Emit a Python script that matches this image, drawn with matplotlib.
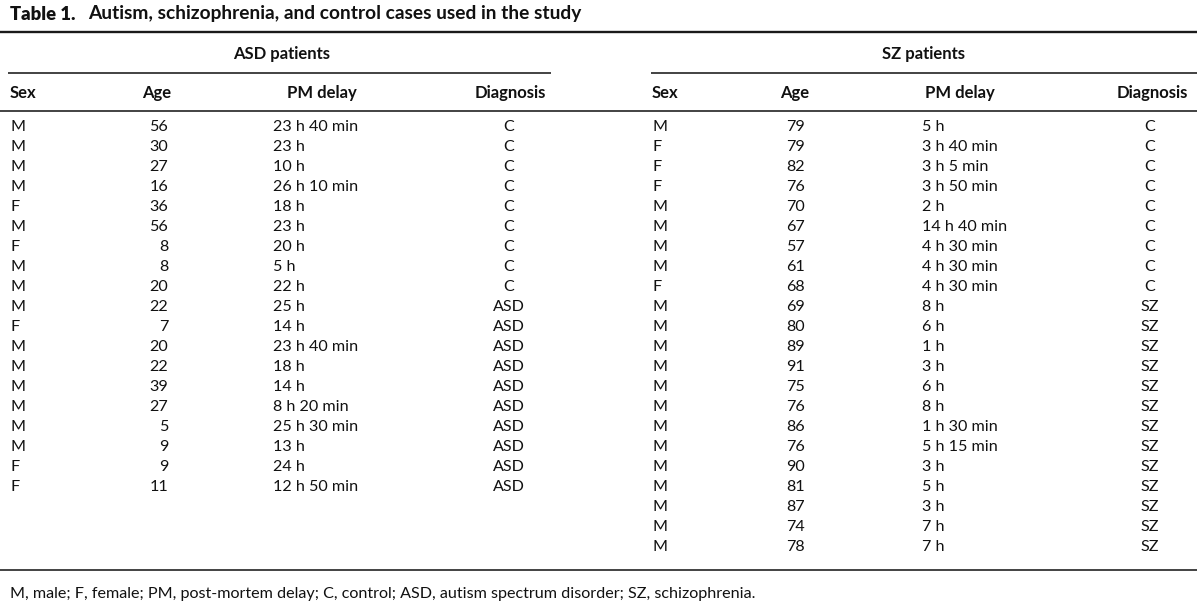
import matplotlib
matplotlib.use("Agg")
import matplotlib.pyplot as plt

plt.rcParams['font.family'] = ['Lato', 'DejaVu Sans']

# ---- data ----
title_label = "Table 1."
title_text = "Autism, schizophrenia, and control cases used in the study"
group_titles = ["ASD patients", "SZ patients"]
col_headers = ["Sex", "Age", "PM delay", "Diagnosis"]

asd_sex = ["M", "M", "M", "M", "F", "M", "F", "M", "M", "M", "F", "M", "M", "M", "M", "M", "M", "F", "F"]
asd_age = [56, 30, 27, 16, 36, 56, 8, 8, 20, 22, 7, 20, 22, 39, 27, 5, 9, 9, 11]
asd_pm = ["23 h 40 min", "23 h", "10 h", "26 h 10 min", "18 h", "23 h", "20 h", "5 h", "22 h",
          "25 h", "14 h", "23 h 40 min", "18 h", "14 h", "8 h 20 min", "25 h 30 min", "13 h",
          "24 h", "12 h 50 min"]
asd_dx = ["C"] * 9 + ["ASD"] * 10

sz_sex = ["M", "F", "F", "F", "M", "M", "M", "M", "F", "M", "M", "M", "M", "M", "M", "M", "M",
          "M", "M", "M", "M", "M"]
sz_age = [79, 79, 82, 76, 70, 67, 57, 61, 68, 69, 80, 89, 91, 75, 76, 86, 76, 90, 81, 87, 74, 78]
sz_pm = ["5 h", "3 h 40 min", "3 h 5 min", "3 h 50 min", "2 h", "14 h 40 min", "4 h 30 min",
         "4 h 30 min", "4 h 30 min", "8 h", "6 h", "1 h", "3 h", "6 h", "8 h", "1 h 30 min",
         "5 h 15 min", "3 h", "5 h", "3 h", "7 h", "7 h"]
sz_dx = ["C"] * 9 + ["SZ"] * 13

footnote = ("M, male; F, female; PM, post-mortem delay; C, control; ASD, autism spectrum "
            "disorder; SZ, schizophrenia.")

# ---- layout ----
W, H = 1200, 612
fig = plt.figure(figsize=(W / 100, H / 100), dpi=100)
ax = fig.add_axes([0, 0, 1, 1])
ax.set_xlim(0, W)
ax.set_ylim(H, 0)
ax.axis("off")

FS = 11.6
HFS = 12.0
color = "#111111"

# title
ax.text(10, 14, title_label, fontsize=13.2, fontweight="heavy", va="center", ha="left", color=color)
ax.text(88, 14, title_text, fontsize=13.8, fontweight="bold", va="center", ha="left", color=color)

# rules
ax.plot([0, 1197], [32, 32], color="#1a1a1a", lw=1.7, solid_capstyle="butt")
ax.plot([8, 551], [73, 73], color="#222222", lw=1.2, solid_capstyle="butt")
ax.plot([651, 1197], [73, 73], color="#222222", lw=1.2, solid_capstyle="butt")
ax.plot([0, 1197], [111, 111], color="#222222", lw=1.2, solid_capstyle="butt")
ax.plot([0, 1197], [570, 570], color="#222222", lw=1.2, solid_capstyle="butt")

# group titles
ax.text(282, 54, group_titles[0], fontsize=HFS, fontweight="bold", ha="center", va="center", color=color)
ax.text(924, 54, group_titles[1], fontsize=HFS, fontweight="bold", ha="center", va="center", color=color)

# column layouts: (x, ha) for headers and for data
panels = [
    dict(hdr=[(10, "left"), (157, "center"), (322, "center"), (510, "center")],
         dat=[(10, "left"), (168, "right"), (273, "left"), (509, "center")],
         cols=[asd_sex, asd_age, asd_pm, asd_dx]),
    dict(hdr=[(652, "left"), (795, "center"), (960, "center"), (1188, "right")],
         dat=[(652, "left"), (805, "right"), (922, "left"), (1150, "center")],
         cols=[sz_sex, sz_age, sz_pm, sz_dx]),
]

HDR_Y = 93
ROW0 = 127
ROW_H = 20

for p in panels:
    for (x, ha), name in zip(p["hdr"], col_headers):
        ax.text(x, HDR_Y, name, fontsize=HFS, fontweight="bold", ha=ha, va="center", color=color)
    for (x, ha), col in zip(p["dat"], p["cols"]):
        for i, v in enumerate(col):
            ax.text(x, ROW0 + i * ROW_H, str(v), fontsize=FS, ha=ha, va="center", color=color)

ax.text(10, 594, footnote, fontsize=FS, ha="left", va="center", color=color)

fig.savefig("out.png", dpi=100, facecolor="white")
